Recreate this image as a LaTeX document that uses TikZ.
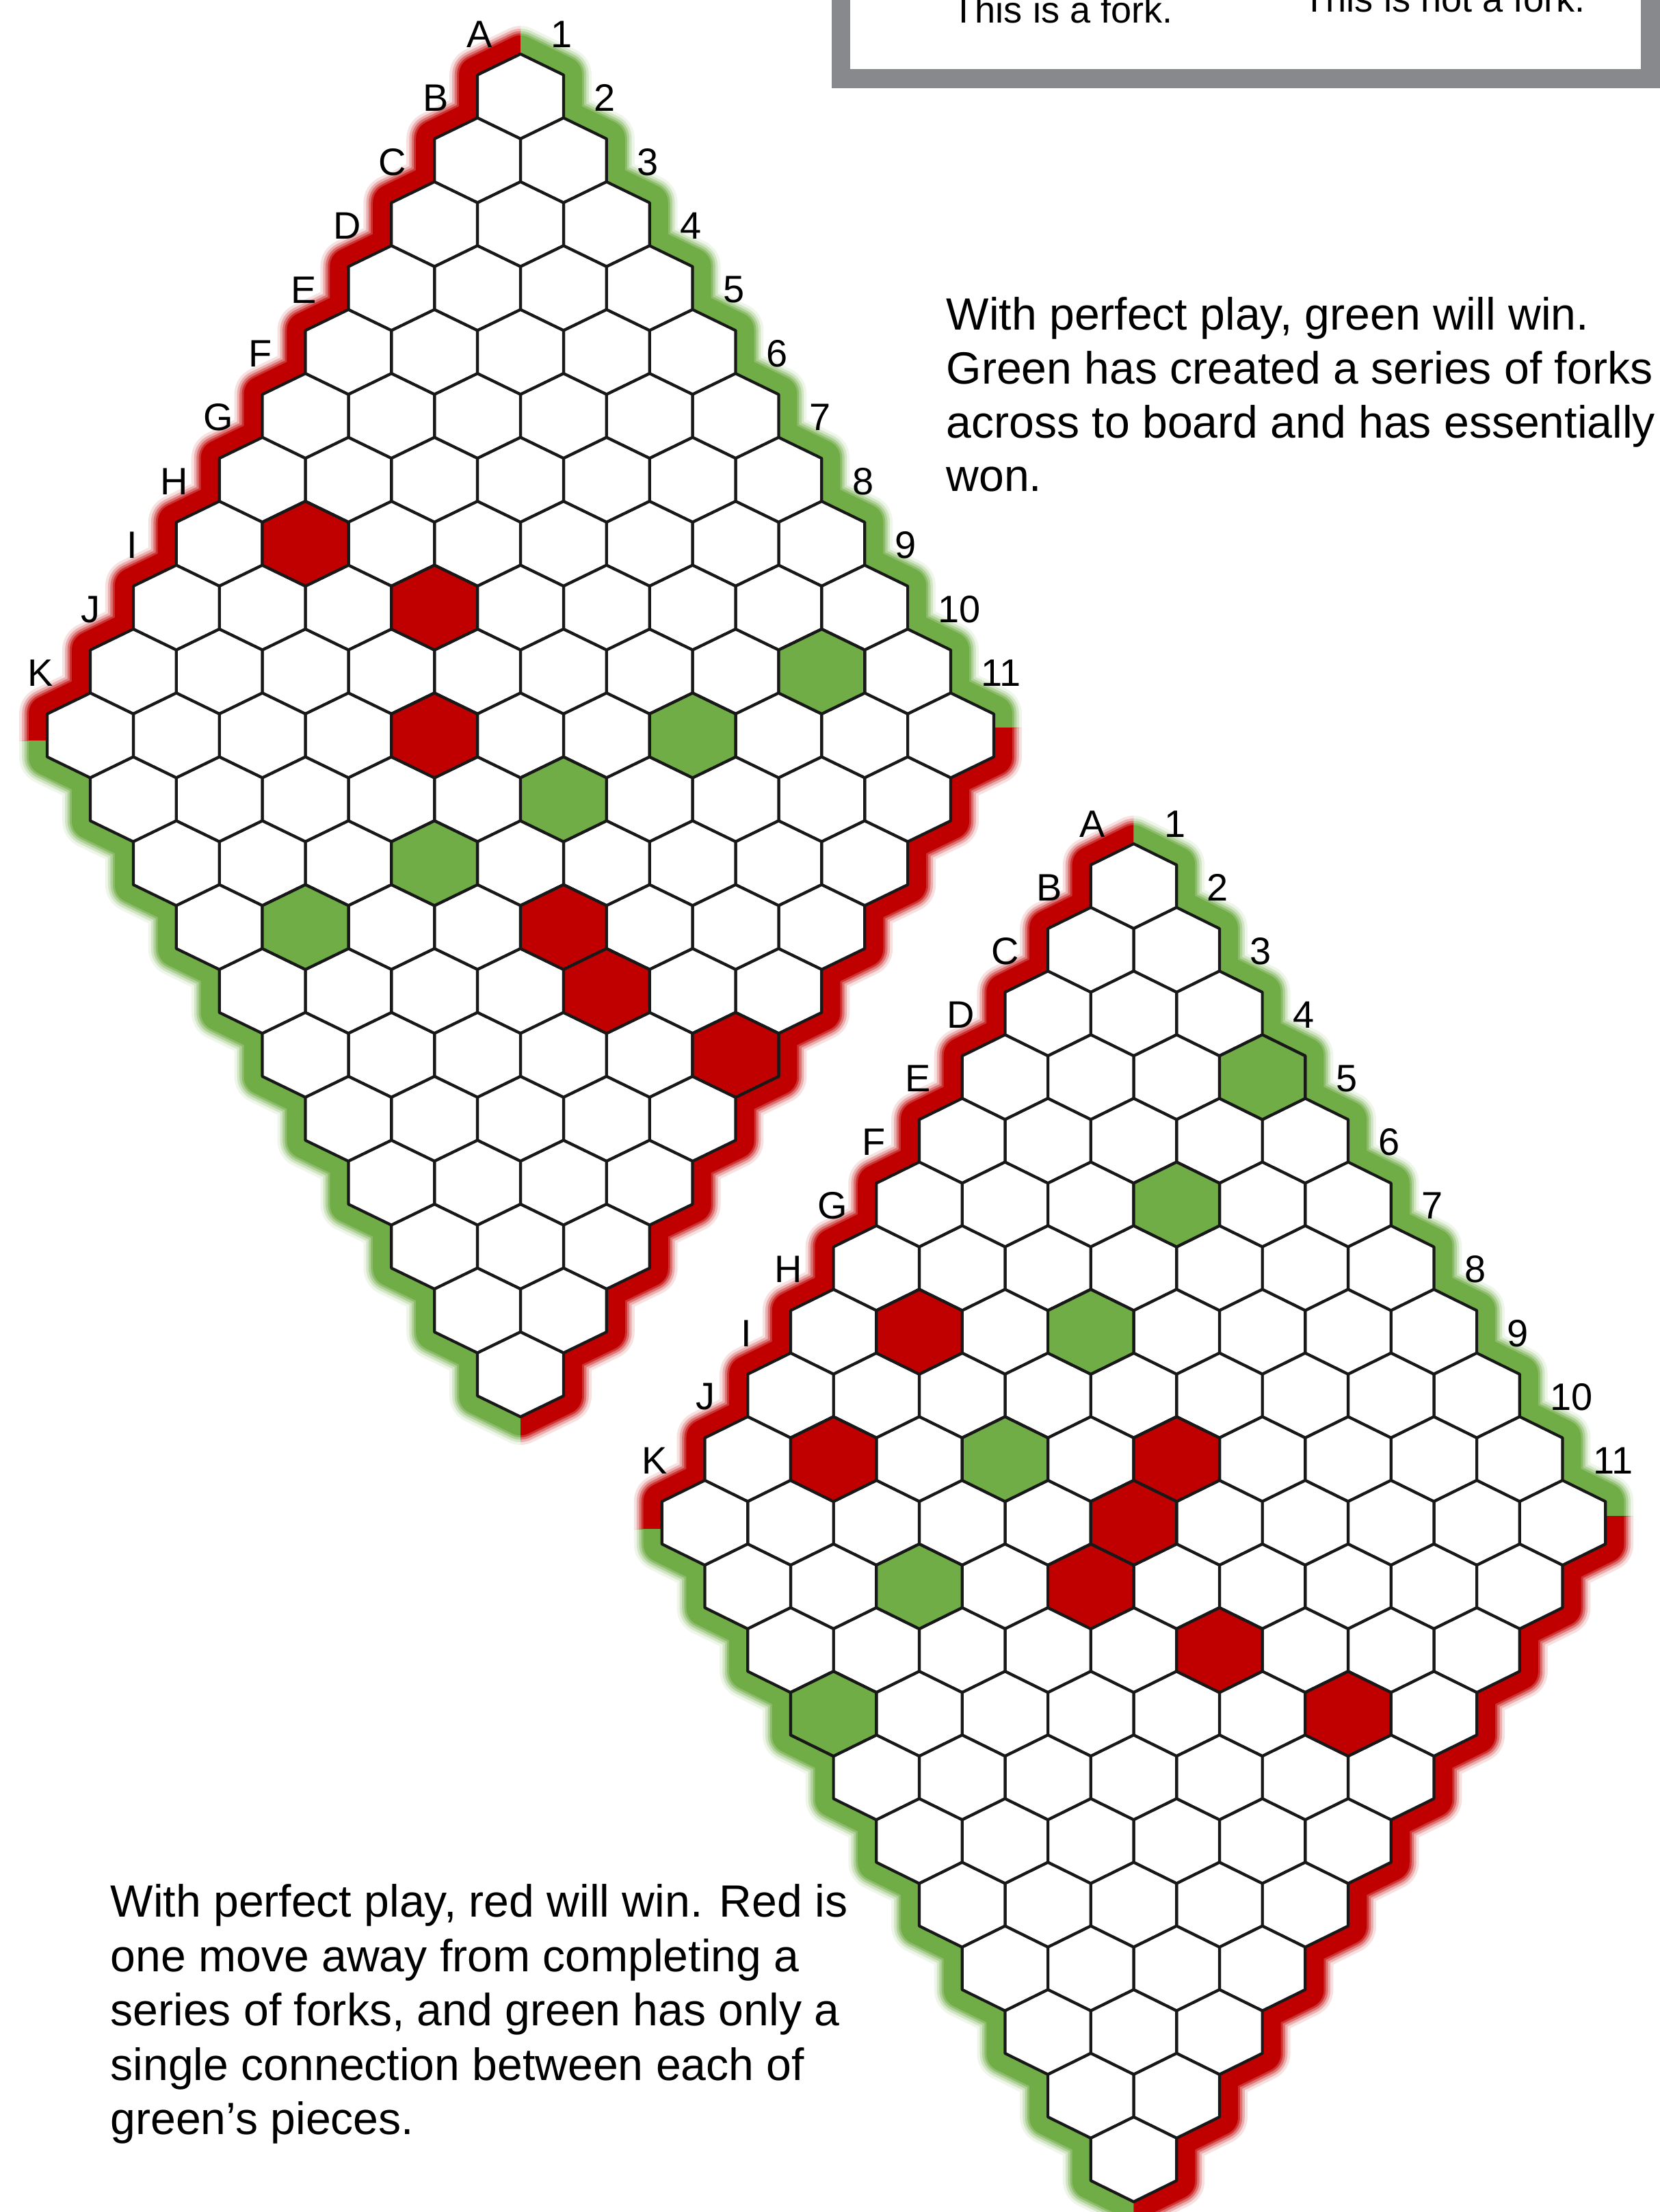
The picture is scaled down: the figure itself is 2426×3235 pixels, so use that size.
\documentclass[tikz,border=0pt]{standalone}
\usepackage{fontspec}
\setmainfont{Liberation Sans}
\definecolor{hexred}{RGB}{192,0,0}
\definecolor{hexgreen}{RGB}{112,173,71}
\definecolor{hexline}{RGB}{24,24,24}
\definecolor{framegray}{RGB}{135,137,141}
\tikzset{
  cellstyle/.style={draw=hexline, line width=1.2pt, line join=round},
  lbl/.style={font=\fontsize{15.9}{19}\selectfont, inner sep=0pt},
  para/.style={font=\fontsize{18.8}{22.6}\selectfont, anchor=base west, inner sep=0pt},
  capt/.style={font=\fontsize{15.4}{18}\selectfont, anchor=base west, inner sep=0pt},
}
% board border stroke (glow layers)
\newcommand\bdstroke[1]{%
  \foreach \w/\o in {23.3/0.12,21.0/0.22,19.0/0.35,17.1/0.55,15.4/1}{%
    \draw[draw=#1, line width=\w pt, draw opacity=\o, line join=round]
      ({\hbx},{\hby-62})
      \foreach \i in {0,...,10}{ -- ({\hbx-(\i+1)*\hba},{\hby+\i*\hbr-\hbs}) -- ({\hbx-(\i+1)*\hba},{\hby+\i*\hbr+\hbs}) }
      \foreach \j in {0,...,10}{ -- ({\hbx+(\j-11)*\hba},{\hby+(10+\j)*\hbr+\hbs}) -- ({\hbx+(\j-10)*\hba},{\hby+(10+\j)*\hbr+62}) }
      \foreach \i in {10,9,...,0}{ -- ({\hbx+(11-\i)*\hba},{\hby+(\i+10)*\hbr+\hbs}) -- ({\hbx+(11-\i)*\hba},{\hby+(\i+10)*\hbr-\hbs}) }
      \foreach \j in {10,9,...,0}{ -- ({\hbx+(\j+1)*\hba},{\hby+\j*\hbr-\hbs}) -- ({\hbx+\j*\hba},{\hby+\j*\hbr-62}) }
      -- cycle;}}
% one hex cell: row i (letter), column j (number), fill
\newcommand\cellhex[3]{\filldraw[cellstyle, fill=#3]
  ({\hbx+(#2-#1)*\hba},{\hby+(#1+#2)*\hbr-62}) -- ++({\hba},{62-\hbs}) -- ++(0,{2*\hbs})
  -- ++({-\hba},{62-\hbs}) -- ++({-\hba},{\hbs-62}) -- ++(0,{-2*\hbs}) -- cycle;}
% whole board: name, x, y of A1 centre, half width, row step, left split, right split
\newcommand\drawboard[7]{%
  \def\hbn{#1}\def\hbx{#2}\def\hby{#3}\def\hba{#4}\def\hbr{#5}%
  \pgfmathsetmacro\hbs{#5-62}%
  \pgfmathsetmacro\hbcy{#3+10*#5}%
  \begin{scope}\clip ({\hbx-1200},{\hby-300}) rectangle ({\hbx},{\hbcy+#6}); \bdstroke{hexred}\end{scope}
  \begin{scope}\clip ({\hbx},{\hby-300}) rectangle ({\hbx+1200},{\hbcy+#7}); \bdstroke{hexgreen}\end{scope}
  \begin{scope}\clip ({\hbx-1200},{\hbcy+#6}) rectangle ({\hbx},{\hbcy+1300}); \bdstroke{hexgreen}\end{scope}
  \begin{scope}\clip ({\hbx},{\hbcy+#7}) rectangle ({\hbx+1200},{\hbcy+1300}); \bdstroke{hexred}\end{scope}
  \foreach \i in {0,...,10}{\foreach \j in {0,...,10}{\cellhex{\i}{\j}{white}}}
}
\newcommand\boardlabels{%
  \foreach \L/\dx [count=\k from 0] in {A/-60,B/-61,C/-62,D/-65,E/-65,F/-66,G/-64,H/-66,I/-65,J/-62,K/-73}{%
    \node[lbl] (\hbn-\L) at ({\hbx-\k*\hba+\dx},{\hby+\k*\hbr-91}) {\L};}
  \foreach \n [count=\k from 0] in {1,...,11}{%
    \node[lbl, anchor=west] (\hbn-n\n) at ({\hbx+\k*\hba+44},{\hby+\k*\hbr-91}) {\n};}
}
\begin{document}
\begin{tikzpicture}[x=0.01cm, y=-0.01cm]
\useasboundingbox (0,0) rectangle (2426,3235);
% top example box (cut by the page edge)
\fill[framegray] (1216,-60) rectangle (2460,129);
\fill[white] (1243,-60) rectangle (2399,101);
\node[capt] (fork) at (1392,33) {This is a fork.};
\node[capt] (nofork) at (1905,17) {This is not a fork.};
% board 1
\drawboard{bA}{761}{141}{62.9}{93.45}{8}{-11}
\foreach \i/\j in {6/1,5/3,6/4,6/7,6/8,5/10}{\cellhex{\i}{\j}{hexred}}
\foreach \i/\j in {1/8,3/7,5/6,7/5,9/4}{\cellhex{\i}{\j}{hexgreen}}
\boardlabels
% board 2
\drawboard{bB}{1657.5}{1296}{62.7}{93.1}{9}{-10}
\foreach \i/\j in {6/1,8/1,4/5,5/5,6/5,5/7,4/9}{\cellhex{\i}{\j}{hexred}}
\foreach \i/\j in {0/3,2/3,4/3,6/3,8/3,10/3}{\cellhex{\i}{\j}{hexgreen}}
\boardlabels
% texts
\node[para] (g1) at (1383,482) {With perfect play, green will win.};
\node[para] (g2) at (1383,561) {Green has created a series of forks};
\node[para] (g3) at (1383,640) {across to board and has essentially};
\node[para] (g4) at (1383,718) {won.};
\node[para] (r1) at (161,2803) {With perfect play, red will win. Red is};
\node[para] (r2) at (161,2883) {one move away from completing a};
\node[para] (r3) at (161,2962) {series of forks, and green has only a};
\node[para] (r4) at (161,3042) {single connection between each of};
\node[para] (r5) at (161,3121) {green’s pieces.};
\end{tikzpicture}
\end{document}
